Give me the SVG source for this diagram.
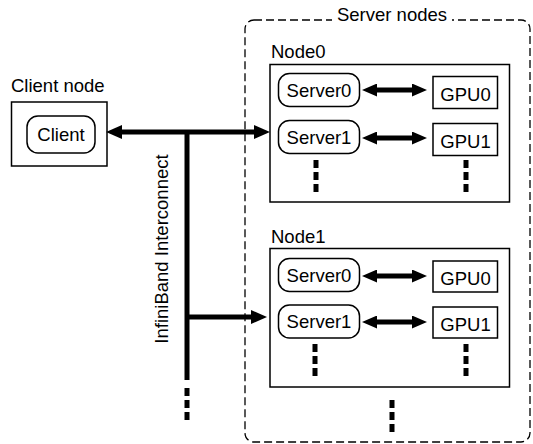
<svg xmlns="http://www.w3.org/2000/svg" width="533" height="444" viewBox="0 0 533 444">
<style>
text{font-family:"Liberation Sans",Arial,sans-serif;font-size:18.5px;fill:#000}
.box{fill:#fff;stroke:#000;stroke-width:1.5}
.proc{fill:#fff;stroke:#000;stroke-width:1.5}
.bus{stroke:#000;stroke-width:5;fill:none}
.link{stroke:#000;stroke-width:5;fill:none}
.dots{stroke:#000;stroke-width:5;stroke-dasharray:8 4;fill:none}
.mid{text-anchor:middle}
</style>
<defs>
<marker id="ah" markerUnits="userSpaceOnUse" markerWidth="16" markerHeight="14" refX="0" refY="7" orient="auto-start-reverse"><path d="M0,0 L16,7 L0,14 z" fill="#000"/></marker>
<marker id="ahs" markerUnits="userSpaceOnUse" markerWidth="15" markerHeight="13" refX="0" refY="6.5" orient="auto-start-reverse"><path d="M0,0 L15,6.5 L0,13 z" fill="#000"/></marker>
</defs>

<g id="server-nodes">
<rect x="245" y="20" width="285" height="422" rx="9" fill="none" stroke="#000" stroke-width="1.3" stroke-dasharray="8 4"/>
<rect x="332" y="5" width="120" height="24" fill="#fff"/>
<text x="392" y="21" class="mid">Server nodes</text>
</g>

<g id="client-node">
<text x="11" y="92">Client node</text>
<rect class="box" x="11.5" y="102" width="95.5" height="64"/>
<g id="client">
<rect class="proc" x="27" y="116" width="68" height="37" rx="11"/>
<text x="61" y="141" class="mid">Client</text>
</g>
</g>

<g id="node0">
<text x="271" y="58">Node0</text>
<rect class="box" x="270" y="64.5" width="239.5" height="137.5"/>
<g id="node0-server0"><rect class="proc" x="278.5" y="73.5" width="81" height="33" rx="11"/><text x="319" y="97" class="mid">Server0</text></g>
<g id="node0-gpu0"><rect class="box" x="433" y="76.5" width="64.5" height="32"/><text x="465.5" y="101" class="mid">GPU0</text></g>
<g id="node0-server1"><rect class="proc" x="278.5" y="120.5" width="81" height="33" rx="11"/><text x="319" y="144" class="mid">Server1</text></g>
<g id="node0-gpu1"><rect class="box" x="433" y="123.5" width="64.5" height="32"/><text x="465.5" y="148" class="mid">GPU1</text></g>
<line class="dots" x1="316" y1="160" x2="316" y2="192"/>
<line class="dots" x1="466" y1="160" x2="466" y2="192"/>
</g>

<g id="node1">
<text x="271" y="243">Node1</text>
<rect class="box" x="270" y="248.5" width="239.5" height="138.5"/>
<g id="node1-server0"><rect class="proc" x="278.5" y="258.5" width="81" height="33" rx="11"/><text x="319" y="282" class="mid">Server0</text></g>
<g id="node1-gpu0"><rect class="box" x="433" y="261" width="64.5" height="31"/><text x="465.5" y="285" class="mid">GPU0</text></g>
<g id="node1-server1"><rect class="proc" x="278.5" y="305" width="81" height="33" rx="11"/><text x="319" y="328" class="mid">Server1</text></g>
<g id="node1-gpu1"><rect class="box" x="433" y="307" width="64.5" height="31"/><text x="465.5" y="331" class="mid">GPU1</text></g>
<line class="dots" x1="315" y1="344" x2="315" y2="376"/>
<line class="dots" x1="466" y1="344" x2="466" y2="376"/>
</g>

<line class="dots" x1="392" y1="400" x2="392" y2="432"/>

<g id="connectors">
<line class="bus" x1="122" y1="132" x2="254" y2="132" marker-start="url(#ah)" marker-end="url(#ah)"/>
<line class="bus" x1="187" y1="130" x2="187" y2="380"/>
<line class="dots" x1="187" y1="388" x2="187" y2="420"/>
<line class="bus" x1="187" y1="317" x2="251" y2="317" marker-end="url(#ah)"/>
<line class="link" x1="377" y1="90" x2="412" y2="90" marker-start="url(#ahs)" marker-end="url(#ahs)"/>
<line class="link" x1="377" y1="138" x2="412" y2="138" marker-start="url(#ahs)" marker-end="url(#ahs)"/>
<line class="link" x1="377" y1="276" x2="412" y2="276" marker-start="url(#ahs)" marker-end="url(#ahs)"/>
<line class="link" x1="377" y1="322" x2="412" y2="322" marker-start="url(#ahs)" marker-end="url(#ahs)"/>
</g>

<text transform="translate(168,249) rotate(-90)" class="mid">InfiniBand Interconnect</text>
</svg>
